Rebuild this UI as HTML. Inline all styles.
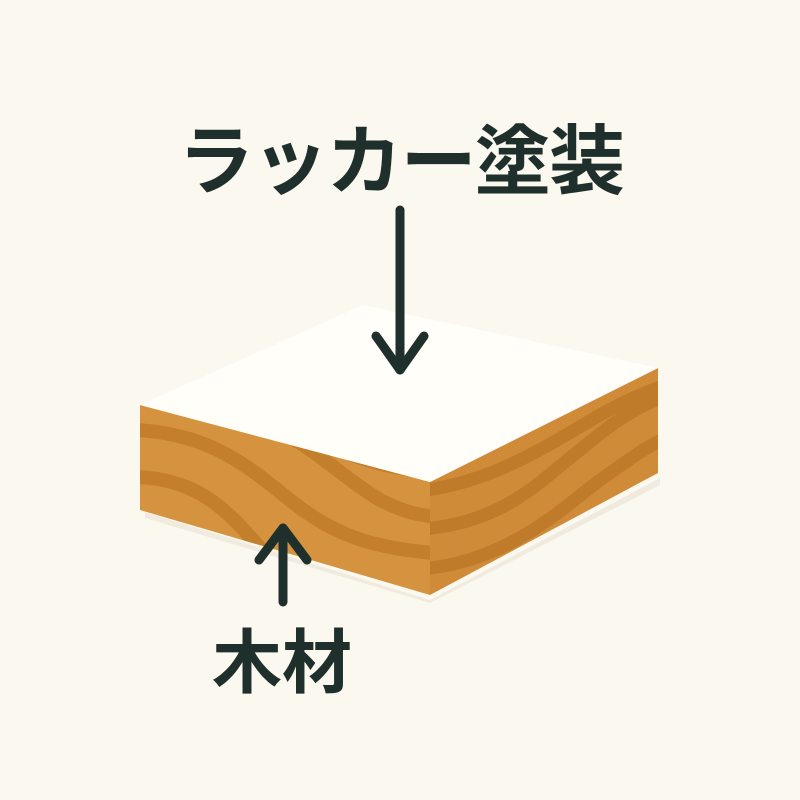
<!DOCTYPE html>
<html><head><meta charset="utf-8"><style>
html,body{margin:0;padding:0;background:#fbf8ef;}
svg{display:block}
</style></head><body>
<svg width="800" height="800" viewBox="0 0 800 800" xmlns="http://www.w3.org/2000/svg">
<rect width="800" height="800" fill="#fbf8ef"/>
<defs>
<clipPath id="front"><polygon points="140,405 430,482 430,595 140,510"/></clipPath>
<clipPath id="right"><polygon points="430,482 658,368 658,473 430,595"/></clipPath>
</defs>
<polygon points="145,512 430,600 660,478 660,485 430,603 145,518" fill="#e9e2d2" opacity="0.6"/>
<polygon points="140,405 430,482 430,595 140,510" fill="#d6933f"/>
<g clip-path="url(#front)" fill="none" stroke="#c47f2c" stroke-width="14">
<path d="M100,430 C200,425 240,460 290,500 C340,540 380,550 460,555"/>
<path d="M100,478 C190,470 220,500 270,560"/>
<path d="M230,420 C290,420 330,470 380,500 C410,515 420,515 460,520"/>
<path d="M300,430 C340,450 370,470 460,475"/>
</g>
<polygon points="430,482 658,368 658,473 430,595" fill="#cf8b38"/>
<g clip-path="url(#right)" fill="none" stroke="#bf7b2a" stroke-width="13">
<path d="M400,530 C500,530 540,480 580,450 C610,425 640,400 700,385"/>
<path d="M400,570 C500,570 560,510 600,480 C630,460 650,440 700,425"/>
<path d="M400,492 C480,490 540,450 600,415 C630,398 660,385 700,375"/>
</g>
<polygon points="140,405 363,305 658,368 430,482" fill="#fffef9"/>
<g stroke="#1f2f2b" stroke-width="9" stroke-linecap="round" stroke-linejoin="round" fill="none">
<line x1="400" y1="210" x2="400" y2="370"/>
<polyline points="376,336 400,370 424,336"/>
<line x1="283" y1="602" x2="283" y2="528"/>
<polyline points="259,560 283,528 307,560"/>
</g>
<text x="178" y="188" font-family="'Noto Sans CJK JP',sans-serif" font-weight="bold" font-size="76" fill="#1f2f2b" textLength="447" lengthAdjust="spacing">ラッカー塗装</text>
<text x="212" y="687" font-family="'Noto Sans CJK JP',sans-serif" font-weight="bold" font-size="70" fill="#1f2f2b" textLength="140" lengthAdjust="spacingAndGlyphs">木材</text>
</svg>
</body></html>
